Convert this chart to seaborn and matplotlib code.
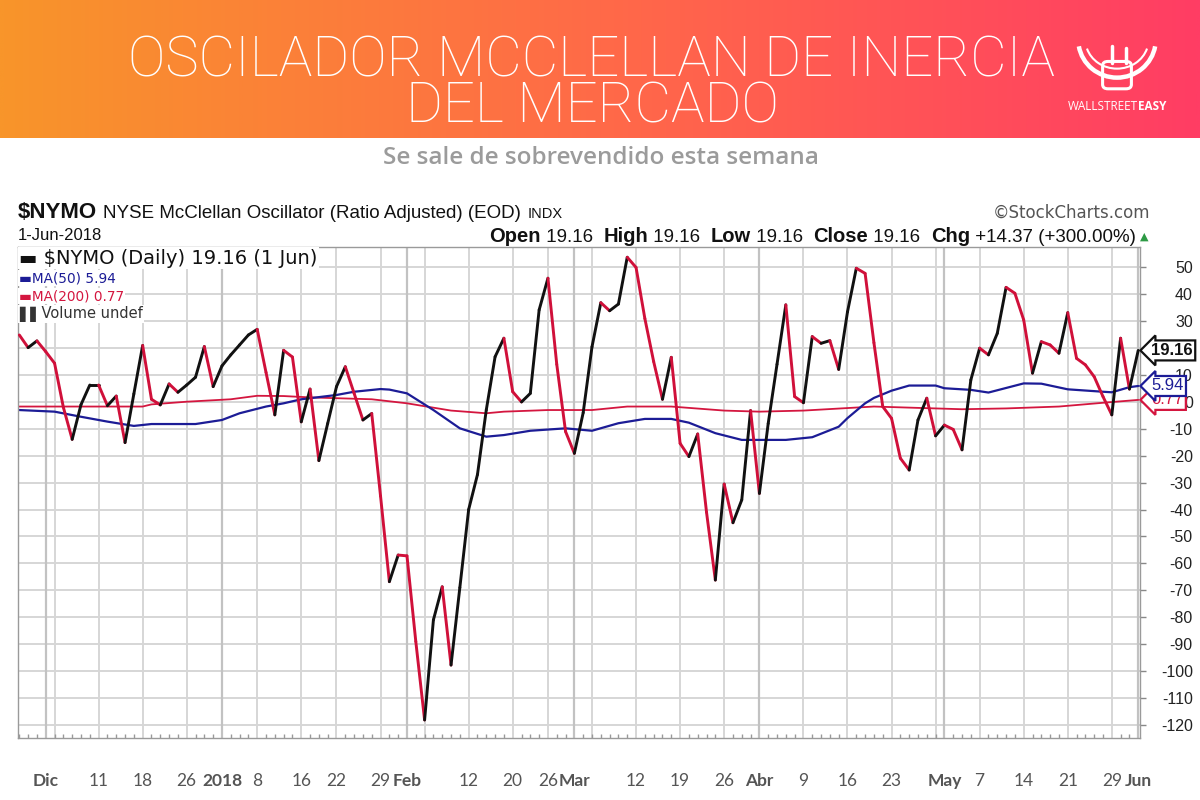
import numpy as np
import pandas as pd
import matplotlib
matplotlib.use("Agg")
import matplotlib.pyplot as plt
import seaborn as sns
from matplotlib.collections import LineCollection
from matplotlib.colors import LinearSegmentedColormap
from matplotlib.offsetbox import TextArea, HPacker, AnnotationBbox
from matplotlib.patches import Arc, FancyBboxPatch

# ---------------- data ----------------
holidays = ["2017-12-25", "2018-01-01", "2018-01-15", "2018-02-19", "2018-03-30", "2018-05-28"]
start_date, end_date = "2017-11-28", "2018-06-01"

nymo = [24.9, 20.2, 22.7, 18.7, 14.4, -2.0, -13.9, -1.0, 6.3, 6.3,
        -1.4, 2.2, -15.1, 3.0, 21.0, 1.0, -1.1, 6.7, 3.6, 6.3,
        9.2, 20.6, 5.7, 13.4, 17.5, 21.2, 24.9, 27.0, 11.0, -4.8,
        19.2, 16.7, -7.4, 4.8, -21.8, -8.0, 5.7, 13.1, 3.2, -6.7,
        -4.3, -35.0, -66.8, -56.9, -57.2, -89.0, -118.2, -81.0, -68.7, -97.8,
        -69.0, -40.0, -27.0, -3.0, 16.8, 23.7, 3.8, 0.0, 3.2, 34.2,
        46.0, 14.0, -11.0, -19.1, -4.0, 20.5, 36.9, 33.9, 36.4, 53.8,
        50.0, 31.0, 15.0, 1.0, 16.6, -15.4, -20.3, -11.9, -41.0, -66.2,
        -30.5, -44.9, -36.4, -3.2, -34.0, -8.0, 14.0, 36.1, 2.0, -0.3,
        24.3, 21.8, 22.8, 12.1, 33.5, 49.7, 47.8, 22.0, -1.7, -6.1,
        -20.9, -25.3, -6.7, 1.4, -12.6, -8.6, -10.2, -17.8, 8.2, 20.0,
        17.5, 25.5, 42.6, 40.4, 30.5, 10.7, 22.4, 21.2, 18.1, 33.2,
        16.2, 13.8, 9.4, 2.0, -4.8, 23.7, 4.79, 19.16]

ma50_dates = ["2017-11-28", "2017-12-04", "2017-12-07", "2017-12-12", "2017-12-15", "2017-12-19",
              "2017-12-27", "2018-01-02", "2018-01-04", "2018-01-09", "2018-01-11", "2018-01-16",
              "2018-01-22", "2018-01-24", "2018-01-29", "2018-01-30", "2018-02-01", "2018-02-06",
              "2018-02-09", "2018-02-14", "2018-02-16", "2018-02-22", "2018-02-28", "2018-03-05",
              "2018-03-08", "2018-03-13", "2018-03-16", "2018-03-20", "2018-03-23", "2018-03-28",
              "2018-04-05", "2018-04-10", "2018-04-13", "2018-04-16", "2018-04-18", "2018-04-19",
              "2018-04-23", "2018-04-25", "2018-04-30", "2018-05-01", "2018-05-04", "2018-05-08",
              "2018-05-14", "2018-05-16", "2018-05-21", "2018-05-25", "2018-05-29", "2018-05-31",
              "2018-06-01"]
ma50_vals = [-3.0, -3.6, -5.5, -7.3, -8.9, -8.2,
             -8.2, -6.7, -4.2, -1.7, -0.5, 1.0,
             2.6, 3.8, 4.8, 4.6, 3.2, -3.0,
             -9.8, -12.9, -12.3, -10.7, -9.8, -10.7,
             -7.9, -6.3, -6.3, -7.7, -11.6, -14.1,
             -14.1, -13.1, -9.2, -6.0, -0.5, 1.5,
             4.2, 6.1, 6.1, 5.1, 4.5, 3.5,
             6.9, 6.8, 4.7, 3.8, 3.6, 5.5,
             5.94]

ma200_dates = ["2017-11-28", "2017-12-18", "2017-12-19", "2017-12-26", "2018-01-03", "2018-01-08",
               "2018-01-11", "2018-01-17", "2018-01-26", "2018-02-01", "2018-02-08", "2018-02-14",
               "2018-02-16", "2018-02-26", "2018-03-05", "2018-03-09", "2018-03-16", "2018-03-26",
               "2018-04-02", "2018-04-09", "2018-04-19", "2018-05-03", "2018-05-10", "2018-05-18",
               "2018-05-25", "2018-06-01"]
ma200_vals = [-1.7, -1.7, -0.9, 0.1, 1.0, 2.3,
              2.2, 1.7, 1.0, -0.5, -3.2, -4.2,
              -3.6, -3.0, -3.0, -1.7, -1.7, -3.2,
              -3.6, -3.2, -1.7, -2.7, -2.4, -1.7,
              -0.3, 0.77]

tick_dates = ["2017-12-01", "2017-12-11", "2017-12-18", "2017-12-26", "2018-01-02", "2018-01-08",
              "2018-01-16", "2018-01-22", "2018-01-29", "2018-02-01", "2018-02-12", "2018-02-20",
              "2018-02-26", "2018-03-01", "2018-03-12", "2018-03-19", "2018-03-26", "2018-04-02",
              "2018-04-09", "2018-04-16", "2018-04-23", "2018-05-01", "2018-05-07", "2018-05-14",
              "2018-05-21", "2018-05-29", "2018-06-01"]
tick_labels = ["Dic", "11", "18", "26", "2018", "8", "16", "22", "29", "Feb", "12", "20", "26",
               "Mar", "12", "19", "26", "Abr", "9", "16", "23", "May", "7", "14", "21", "29", "Jun"]
bold_labels = {"Dic", "2018", "Feb", "Mar", "Abr", "May", "Jun"}

y_ticks = list(range(-120, 51, 10))

last_close, ma50_last, ma200_last = 19.16, 5.94, 0.77

# ---------------- trading-day axis ----------------
days = pd.bdate_range(start_date, end_date)
days = days[~days.isin(pd.to_datetime(holidays))]
pos = pd.Series(np.arange(len(days)), index=days)
idx = np.arange(len(days))

sns.set_theme(style="white")
plt.rcParams["font.family"] = ["DejaVu Sans"]

W, H = 1200, 800
fig = plt.figure(figsize=(12, 8), dpi=100)
fig.patch.set_facecolor("white")

def fx(px):
    return px / W

def fy(py):
    return 1 - py / H

# ---------------- header gradient ----------------
hax = fig.add_axes([0, fy(138), 1, 138 / H])
cmap = LinearSegmentedColormap.from_list("hdr", ["#F8952A", "#FF6A48", "#FF3D64"])
hax.imshow(np.linspace(0, 1, 512)[None, :], aspect="auto", cmap=cmap, extent=[0, 1, 0, 1])
hax.set_axis_off()

fig.text(fx(592), fy(84), "OSCILADOR MCCLELLAN DE INERCIA\nDEL MERCADO", color="white", ha="center",
         va="center", multialignment="center", linespacing=0.82, fontsize=40.5,
         family=["Roboto", "Lato", "DejaVu Sans"], fontweight="light")

# logo
lax = fig.add_axes([fx(1072), fy(96), 90 / W, 72 / H])
lax.set_xlim(0, 1); lax.set_ylim(0, 1); lax.set_axis_off()
lax.add_patch(Arc((0.5, 0.78), 0.86, 1.05, theta1=192, theta2=348, color="white", lw=3.2))
lax.add_patch(Arc((0.5, 0.78), 0.70, 0.80, theta1=200, theta2=340, color="white", lw=1.5))
lax.add_patch(FancyBboxPatch((0.36, 0.12), 0.28, 0.34, boxstyle="round,pad=0.02,rounding_size=0.06",
                             fc="none", ec="white", lw=2.2))
lax.plot([0.44, 0.44], [0.46, 0.70], color="white", lw=2.5, solid_capstyle="round")
lax.plot([0.60, 0.60], [0.46, 0.66], color="white", lw=2.5, solid_capstyle="round")
ta1 = TextArea("WALLSTREET", textprops=dict(color="white", fontsize=8.5, family=["Open Sans", "DejaVu Sans"]))
ta2 = TextArea("EASY", textprops=dict(color="white", fontsize=8.5, fontweight="bold", family=["Open Sans", "DejaVu Sans"]))
ab = AnnotationBbox(HPacker(children=[ta1, ta2], sep=0, pad=0), (1117, H - 106), xycoords="figure pixels",
                    box_alignment=(0.5, 0.5), frameon=False)
fig.add_artist(ab)

# subtitle
fig.text(fx(601), fy(158), "Se sale de sobrevendido esta semana", color="#9b9b9b", ha="center", va="center",
         fontsize=17.5, family=["Open Sans", "DejaVu Sans"], fontweight="semibold")

# chart heading
fig.text(fx(18), fy(213), "$NYMO", fontsize=16, fontweight="bold", family=["Liberation Sans"], va="center", color="#111")
fig.text(fx(103), fy(213), "NYSE McClellan Oscillator (Ratio Adjusted) (EOD)", fontsize=13.5,
         family=["Liberation Sans"], va="center", color="#111")
fig.text(fx(528), fy(214), "INDX", fontsize=10.5, family=["Liberation Sans"], va="center", color="#111")
fig.text(fx(18), fy(236), "1-Jun-2018", fontsize=12, family=["Liberation Sans"], va="center", color="#111")
fig.text(fx(1150), fy(213), "\u00a9StockCharts.com", fontsize=12, family=["DejaVu Sans"], ha="right",
         va="center", color="#555")

parts = [("Open", True), (" 19.16  ", False), ("High", True), (" 19.16  ", False), ("Low", True),
         (" 19.16  ", False), ("Close", True), (" 19.16  ", False), ("Chg", True),
         (" +14.37 (+300.00%)", False)]
children = [TextArea(t, textprops=dict(fontsize=14.5 if b else 13.5, fontweight="bold" if b else "normal",
                                       family=["Liberation Sans"], color="#111")) for t, b in parts]
ab2 = AnnotationBbox(HPacker(children=children, sep=0, pad=0, align="baseline"), (1136, H - 236),
                     xycoords="figure pixels", box_alignment=(1, 0.5), frameon=False)
fig.add_artist(ab2)
fig.text(fx(1144), fy(237), "\u25b2", fontsize=8, color="#2e9a45", ha="center", va="center")

# ---------------- main chart ----------------
L, R, T, B = 18, 1140, 247, 738
ax = fig.add_axes([fx(L), fy(B), (R - L) / W, (B - T) / H])
ax.set_facecolor("white")

# vertical grid: week starts and month starts
wk = [i for i in range(1, len(days)) if days[i].weekday() <= days[i - 1].weekday()]
mo = [i for i in range(1, len(days)) if days[i].month != days[i - 1].month]
for i in wk:
    ax.axvline(i, color="#d6d6d6", lw=1.4, zorder=0.5)
for i in mo:
    ax.axvline(i, color="#c2c2c2", lw=1.6, zorder=0.6)
for v in y_ticks:
    ax.axhline(v, color="#d6d6d6", lw=1.4, zorder=0.5)

# moving averages
sns.lineplot(x=pos[pd.to_datetime(ma200_dates)].values, y=ma200_vals, ax=ax, color="#d4163f", lw=1.3, zorder=2)
sns.lineplot(x=pos[pd.to_datetime(ma50_dates)].values, y=ma50_vals, ax=ax, color="#1c1c96", lw=1.6, zorder=2.1)

# oscillator, black on rising days, red on falling days
y = np.asarray(nymo)
pts = np.column_stack([idx, y])
segs = np.stack([pts[:-1], pts[1:]], axis=1)
cols = np.where(np.diff(y) >= 0, "#111111", "#d0103a")
ax.add_collection(LineCollection(segs, colors=cols, linewidths=2.1, capstyle="round", joinstyle="round", zorder=3))

ax.set_xlim(-0.15, len(days) - 0.8)
ax.set_ylim(-124.9, 57.6)

# axes styling
for s in ax.spines.values():
    s.set_color("#9a9a9a"); s.set_linewidth(1.0)
ax.yaxis.tick_right()
ax.set_yticks(y_ticks)
ax.set_yticklabels([str(v) for v in y_ticks])
ax.tick_params(axis="y", which="major", length=4, width=1, color="#888", pad=34, labelsize=11.5, labelcolor="#222")
for lbl in ax.get_yticklabels():
    lbl.set_ha("right"); lbl.set_family(["Liberation Sans"])

ax.set_xticks(pos[pd.to_datetime(tick_dates)].values)
ax.set_xticklabels(tick_labels)
ax.set_xticks(idx, minor=True)
ax.tick_params(axis="x", which="major", length=0, pad=25, labelsize=12.5, labelcolor="#555")
ax.tick_params(axis="x", which="minor", length=3, direction="in", color="#999", bottom=True)
for lbl in ax.get_xticklabels():
    lbl.set_family(["Lato", "DejaVu Sans"])
    lbl.set_fontweight("bold" if lbl.get_text() in bold_labels else "normal")
ax.set_xlabel(""); ax.set_ylabel("")

# legend block
lg = dict(transform=ax.transAxes, va="center", ha="left", family=["DejaVu Sans"], zorder=5,
          bbox=dict(fc="white", ec="none", pad=1.0))
def axy(py):
    return (B - py) / (B - T)
def axx(px):
    return (px - L) / (R - L)
ax.text(axx(19), axy(258), "\u25ac $NYMO (Daily) 19.16 (1 Jun)", fontsize=14, color="#111", **lg)
ax.text(axx(19), axy(278), "\u25acMA(50) 5.94", fontsize=9.8, color="#1c1c96", **lg)
ax.text(axx(19), axy(296), "\u25acMA(200) 0.77", fontsize=9.8, color="#d4163f", **lg)
ax.text(axx(19), axy(314), "\u258c\u258cVolume undef", fontsize=10.5, color="#333", **lg)

# value tags at the right edge
def tag(val, txt, col, weight, z):
    ax.annotate(txt, xy=(1.0, val), xycoords=("axes fraction", "data"), xytext=(8, 0),
                textcoords="offset points", ha="left", va="center", fontsize=12, color=col,
                fontweight=weight, family=["Liberation Sans"], annotation_clip=False, zorder=z,
                bbox=dict(boxstyle="larrow,pad=0.15", fc="white", ec=col, lw=1.6))
tag(ma200_last, f"{ma200_last:.2f}", "#d4163f", "normal", 6)
tag(ma50_last, f"{ma50_last:.2f}", "#1c1c96", "normal", 7)
tag(last_close, f"{last_close:.2f}", "#111111", "bold", 8)

fig.savefig("out.png", dpi=100)
